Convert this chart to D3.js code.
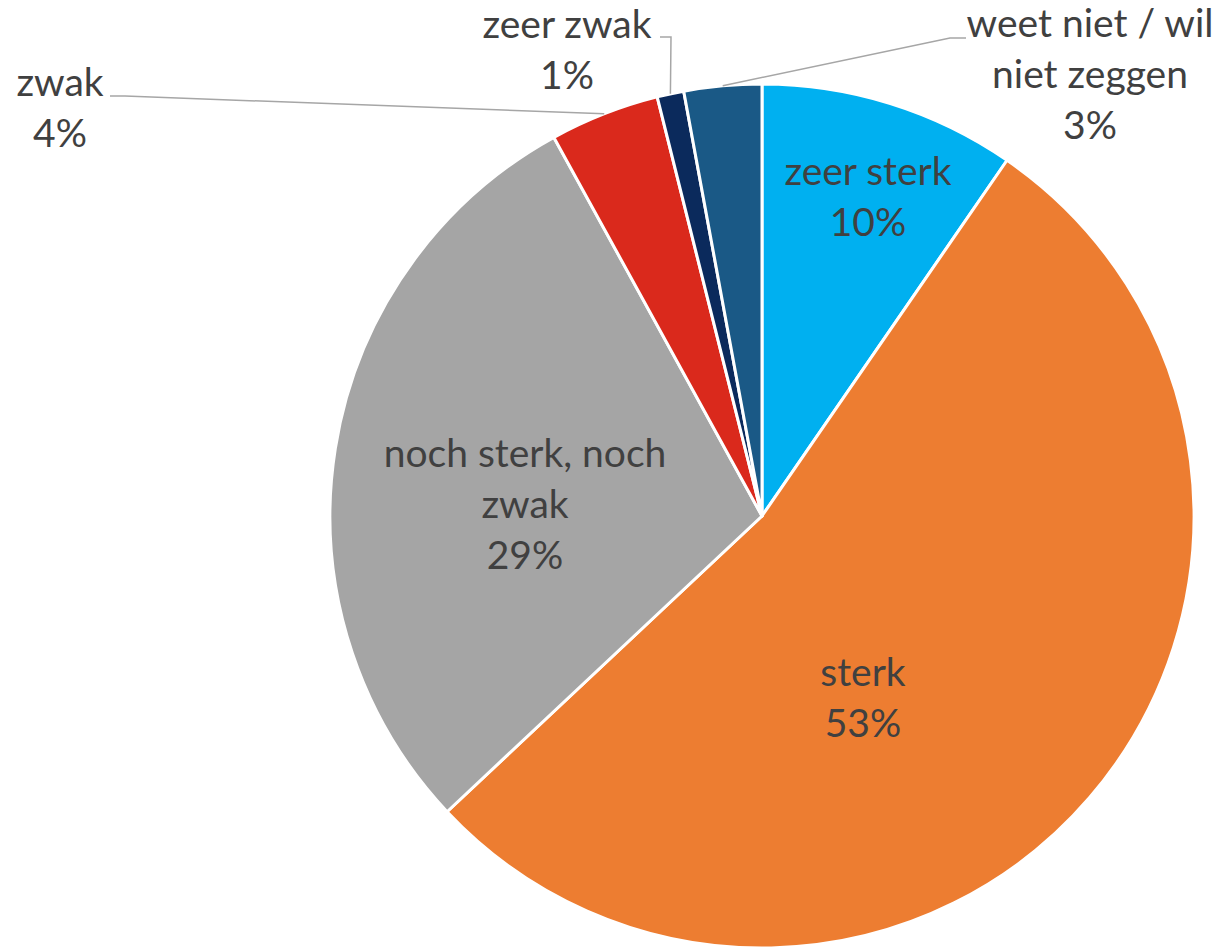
<!DOCTYPE html>
<html>
<head>
<meta charset="utf-8">
<script src="https://cdn.jsdelivr.net/npm/d3@7"></script>
<style>
  html, body { margin: 0; padding: 0; background: #fff; }
  svg { display: block; }
  text { font-family: Lato, "Open Sans", sans-serif; fill: #404040; }
</style>
</head>
<body>
<div id="chart"></div>
<script>
const categories = ["zeer sterk", "sterk", "noch sterk, noch zwak", "zwak", "zeer zwak", "weet niet / wil niet zeggen"];
const values = [9.6, 53.4, 29.0, 4.1, 1.0, 2.9];
const pctLabels = ["10%", "53%", "29%", "4%", "1%", "3%"];
const labelLines = [["zeer sterk"], ["sterk"], ["noch sterk, noch", "zwak"], ["zwak"], ["zeer zwak"], ["weet niet / wil", "niet zeggen"]];
const colors = ["#00B0F0", "#ED7D31", "#A5A5A5", "#DA291C", "#0B2A5C", "#1A5986"];

const W = 1223, H = 949;
const cx = 762, cy = 516, R = 432;
const lineH = 51;

// label placement (first-line baseline), leader elbows for outside labels
const LABELS = [
  { x: 868, y: 185 },
  { x: 863, y: 686 },
  { x: 525, y: 467 },
  { x: 60,  y: 96,  elbow: [125, 96], end: [110, 96] },
  { x: 567, y: 38,  elbow: [671, 37], end: [660, 37] },
  { x: 1090, y: 37, elbow: [950, 38], end: [966, 38] }
];

const data = categories.map((c, i) => ({ cat: c, value: values[i], pct: pctLabels[i], lines: labelLines[i], color: colors[i] }));

const svg = d3.select("#chart").append("svg").attr("width", W).attr("height", H);
const g = svg.append("g").attr("transform", `translate(${cx},${cy})`);

const pie = d3.pie().value(d => d.value).sort(null);
const arc = d3.arc().innerRadius(0).outerRadius(R);
const arcs = pie(data);

g.selectAll("path.slice").data(arcs).join("path")
  .attr("class", "slice")
  .attr("d", arc)
  .attr("fill", d => d.data.color)
  .attr("stroke", "#fff").attr("stroke-width", 3).attr("stroke-linejoin", "round");

// leader lines
arcs.forEach((d, i) => {
  const L = LABELS[i];
  if (!L.elbow) return;
  const mid = (d.startAngle + d.endAngle) / 2;
  const [px, py] = d3.pointRadial(mid, R);
  svg.append("polyline")
    .attr("points", [[px + cx, py + cy], L.elbow, L.end].map(p => p.join(",")).join(" "))
    .attr("fill", "none").attr("stroke", "#A6A6A6").attr("stroke-width", 1.5);
});

// labels
arcs.forEach((d, i) => {
  const L = LABELS[i];
  const t = svg.append("text").attr("text-anchor", "middle").style("font-size", "39px");
  d.data.lines.concat([d.data.pct]).forEach((s, k) => {
    t.append("tspan").attr("x", L.x).attr("y", L.y + k * lineH).text(s);
  });
});
</script>
</body>
</html>
